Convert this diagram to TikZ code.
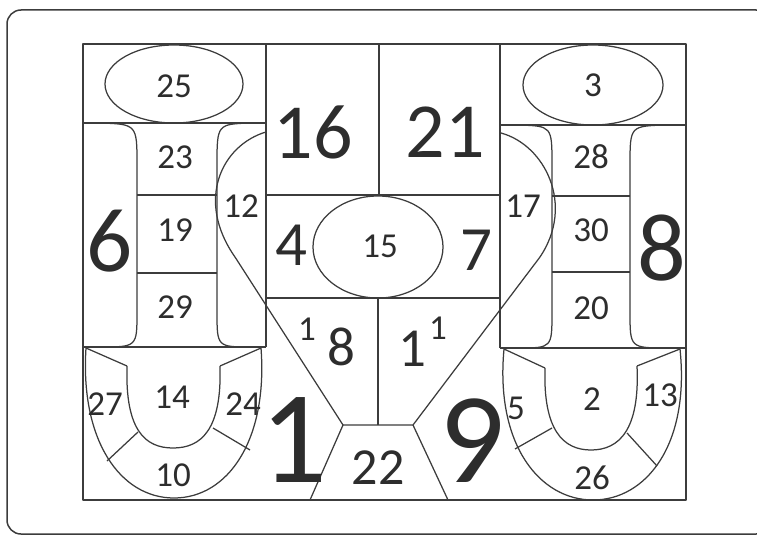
\documentclass[tikz,border=0pt]{standalone}
\usepackage{fontspec}
\setmainfont{Carlito}
\usepackage{tikz}
\usetikzlibrary{
	calc,
	positioning
}
\definecolor{ink}{RGB}{60,60,60}
\definecolor{txt}{RGB}{45,45,45}
\tikzset{
	part/.style={draw=ink, line width=1.25pt},
	num/.style={text=txt, inner sep=0pt, font=\fontsize{#1}{#1}\selectfont}
}

\begin{document}
\begin{tikzpicture}[x=1pt, y=-1pt, line join=round]
		\useasboundingbox (0,0) rectangle (757,535);
		\draw[draw=ink, line width=1.5pt, rounded corners=14pt] (7,10) rectangle (770,534);
		% outer box and columns
		\coordinate (NW) at (83,44);
		\coordinate (SE) at (686,500);
		\draw[part] (NW) rectangle (SE);
		\draw[part] (266,44)--(266,347);
		\draw[part] (500,44)--(500,348);
		\draw[part] (83,123)--(266,123);
		\draw[part] (83,347)--(266,347);
		\draw[part] (500,125)--(686,125);
		\draw[part] (500,348)--(686,348);
		% middle
		\draw[part] (266,195)--(500,195);
		\draw[part] (266,298)--(500,298);
		\draw[part] (379,44)--(379,195);
		\draw[part] (378,298)--(378,425);
		\draw[part] (174,84) ellipse (69 and 39);
		\draw[part] (593,85) ellipse (70 and 40);
		\draw[part] (378,247) ellipse (65 and 51);
		% heart and trapezoid
		\coordinate (A) at (343,425);
		\coordinate (B) at (413,425);
		\draw[part] (266,132) .. controls (222,145) and (195,200) .. (235,257) -- (A) -- (B)
			-- (540,257) .. controls (575,205) and (545,145) .. (501,133);
		\draw[part] (A)--(310,500);
		\draw[part] (B)--(448,500);
		% left spool
		\draw[part] (98,123) .. controls (137,124) .. (137,165) -- (137,312) .. controls (137,347) .. (100,347);
		\draw[part] (252,123) .. controls (217,124) .. (217,165) -- (217,312) .. controls (217,347) .. (252,347);
		\draw[part] (137,195)--(217,195);
		\draw[part] (137,273)--(217,273);
		% right spool
		\draw[part] (518,125) .. controls (552,126) .. (552,165) -- (552,312) .. controls (552,348) .. (518,348);
		\draw[part] (666,125) .. controls (630,126) .. (630,165) -- (630,312) .. controls (630,348) .. (668,348);
		\draw[part] (552,196)--(630,196);
		\draw[part] (552,272)--(630,272);
		% left horseshoe
		\coordinate (P) at (86,348);
		\coordinate (Q) at (261,348);
		\coordinate (R) at (127,366);
		\coordinate (S) at (220,366);
		\draw[part] (P) .. controls (80,440) and (120,498) .. (174,498) .. controls (228,498) and (268,440) .. (Q);
		\draw[part] (R) .. controls (125,430) and (145,448) .. (173,448) .. controls (201,448) and (222,430) .. (S);
		\draw[part] (P)--(R);
		\draw[part] (Q)--(S);
		\draw[part] (138,432)--(107,461);
		\draw[part] (213,428)--(250,450);
		% right horseshoe
		\coordinate (P') at (504,349);
		\coordinate (Q') at (680,349);
		\coordinate (R') at (545,368);
		\coordinate (S') at (637,366);
		\draw[part] (P') .. controls (495,445) and (540,500) .. (593,500) .. controls (646,500) and (690,445) .. (Q');
		\draw[part] (R') .. controls (543,430) and (563,450) .. (591,450) .. controls (619,450) and (640,430) .. (S');
		\draw[part] (P')--(R');
		\draw[part] (Q')--(S');
		\draw[part] (552,428)--(515,449);
		\draw[part] (627,433)--(657,466);
		% numbers
		\foreach \t/\x/\y in {25/174/86, 23/175/157, 19/175/230, 29/175/307, 12/241/206,
			3/593/85, 28/591/157, 30/591/230, 20/591/308, 17/523/206, 15/380/246,
			27/105/404, 14/172/397, 24/243/404, 10/173/475,
			5/516/408, 2/592/399, 13/660/395, 26/592/478}
		\node[num=35] (n\t) at (\x,\y) {\t};
		\node[num=78] (n16) at (313,132) {16};
		\node[num=78] (n21) at (445,132) {21};
		\node[num=63] (n4) at (291,245) {4};
		\node[num=63] (n7) at (476,250) {7};
		\node[num=91] (n6) at (110,241) {6};
		\node[num=96] (n8) at (662,248) {8};
		\node[num=35] (sa) at (307,329) {1};
		\node[num=55] (m8) at (341,347) {8};
		\node[num=55] (m1) at (412,349) {1};
		\node[num=35] (sb) at (438,328) {1};
		\node[num=52] (n22) at (378,468) {22};
		\node[num=132] (big1) at (294,440) {1};
		\node[num=129] (big9) at (472,441) {9};
	\end{tikzpicture}
\end{document}
